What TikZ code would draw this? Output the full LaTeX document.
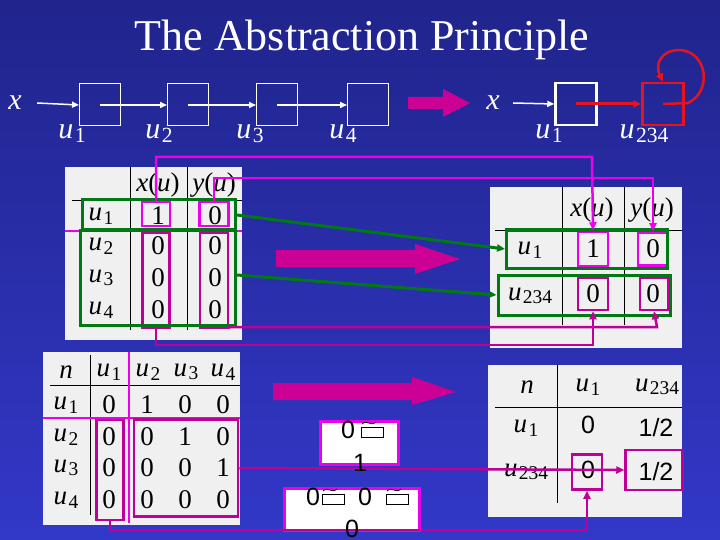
\documentclass[tikz,border=0pt]{standalone}
\usepackage{fontspec}
\setmainfont{Liberation Serif}
\newfontfamily\sansf{Liberation Sans}
\usetikzlibrary{arrows.meta,calc}
\definecolor{bgtop}{RGB}{32,36,140}
\definecolor{bgbot}{RGB}{50,56,200}
\definecolor{mag}{RGB}{235,0,235}
\definecolor{pur}{RGB}{190,0,150}
\definecolor{grn}{RGB}{0,120,20}
\definecolor{blk}{RGB}{205,0,150}
\definecolor{rd}{RGB}{230,20,30}
\definecolor{tbl}{RGB}{240,240,240}
\newcommand{\uv}[1]{\textit{u}\kern0.05em\raisebox{-0.3ex}{\scalebox{0.72}{\upshape #1}}}
\tikzset{
 x=1pt,y=-1pt,
 lst/.style={draw=white,line width=1pt,minimum width=41pt,minimum height=42pt,inner sep=0},
 lab/.style={text=white,font=\fontsize{30}{32}\selectfont},
 tx/.style={font=\fontsize{27}{29}\selectfont,inner sep=0},
 tsx/.style={font=\sansf\fontsize{25}{27}\selectfont,inner sep=0},
 warr/.style={draw=white,line width=1.5pt,-{Triangle[length=7pt,width=6pt]}},
 magl/.style={draw=mag,line width=2.5pt},
 purl/.style={draw=pur,line width=2.5pt},
 grnl/.style={draw=grn,line width=3pt},
 ah/.style={-{Triangle[length=8pt,width=7pt]}},
 wbox/.style={draw=mag,line width=3pt,fill=white},
}
\newcommand{\kb}[1]{\draw[black,fill=white,line width=0.4pt] ($(#1)+(-11,-4)$) rectangle ($(#1)+(11,6)$); \draw[black,line width=0.8pt] ($(#1)+(-10,-7)$) .. controls ($(#1)+(-5,-12)$) and ($(#1)+(-2,-4)$) .. ($(#1)+(4,-9)$);}
\begin{document}
\begin{tikzpicture}
\shade[top color=bgtop,bottom color=bgbot] (0,0) rectangle (720,540);
\useasboundingbox (0,0) rectangle (720,540);
\node[text=white,font=\fontsize{44}{48}\selectfont] (title) at (362,40) {The Abstraction Principle};
% left list
\node[lab] (xa) at (15,103) {\textit{x}};
\node[lst] (b1) at (100,105) {};
\node[lst] (b2) at (188,105) {};
\node[lst] (b3) at (277,105) {};
\node[lst] (b4) at (368,105) {};
\draw[warr] (xa.east)++(12,0) -- (b1.west);
\draw[warr] (b1.center) -- (b2.west);
\draw[warr] (b2.center) -- (b3.west);
\draw[warr] (b3.center) -- (b4.west);
\node[lab] (l1) at (72,134) {\uv{1}};
\node[lab] (l2) at (159,134) {\uv{2}};
\node[lab] (l3) at (250,134) {\uv{3}};
\node[lab] (l4) at (343,134) {\uv{4}};
\fill[blk] (408,97) -- (443,97) -- (443,89) -- (470,103) -- (443,117) -- (443,109) -- (408,109) -- cycle;
% right list
\node[lab] (xb) at (493,103) {\textit{x}};
\node[lst,line width=2.5pt] (c1) at (576,104) {};
\node[lst,draw=rd,line width=2.5pt] (c2) at (663,104) {};
\draw[warr] (513,103) -- (c1.west);
\draw[draw=rd,line width=3pt,ah] (c1.center) -- (c2.west);
\draw[draw=rd,line width=2.5pt,ah] (c2.center) -- (688,103) .. controls (712,92) and (708,52) .. (680,50) .. controls (660,50) and (655,65) .. (c2.north);
\node[lab] (m1) at (549,134) {\uv{1}};
\node[lab] (m2) at (644,134) {\uv{234}};
% table 1
\fill[tbl] (65,167) rectangle (242,340);
\draw[black,line width=0.5pt] (130,167) -- (130,330) (187,167) -- (187,330);
\draw[black,line width=0.8pt] (72,200) -- (242,200);
\node[tx] (h1) at (158,185) {\textit{x}(\textit{u})};
\node[tx] (h2) at (214,185) {\textit{y}(\textit{u})};
\foreach \r/\y/\a/\b in {1/216/1/0,2/246/0/0,3/278/0/0,4/310/0/0}{
 \node[tx] (r\r) at (101,\y) {\uv{\r}};
 \node[tx] (xa\r) at (158,\y) {\a};
 \node[tx] (ya\r) at (215,\y) {\b};}
\draw[magl] (65,231) -- (242,231);
\node[draw=mag,line width=2.5pt,minimum width=28pt,minimum height=24pt] (p1) at (156,214) {};
\node[draw=mag,line width=2.5pt,minimum width=29pt,minimum height=24pt] (p2) at (214,214) {};
\node[draw=pur,line width=2.5pt,minimum width=27pt,minimum height=95pt] (q1) at (156,280) {};
\node[draw=pur,line width=2.5pt,minimum width=28pt,minimum height=95pt] (q2) at (214,280) {};
\node[draw=grn,line width=3pt,minimum width=153pt,minimum height=30pt] (g1) at (159,215) {};
\node[draw=grn,line width=3pt,minimum width=155pt,minimum height=95pt] (g2) at (158,278) {};
% right table 1
\fill[tbl] (490,187) rectangle (682,348);
\draw[black,line width=0.5pt] (562,187) -- (562,325) (624,187) -- (624,325);
\draw[black,line width=0.8pt] (495,230) -- (682,230);
\node[tx] (k1) at (592,210) {\textit{x}(\textit{u})};
\node[tx] (k2) at (652,210) {\textit{y}(\textit{u})};
\node[tx] (s1) at (530,250) {\uv{1}};
\node[tx] (s2) at (530,296) {\uv{234}};
\node[tx] (v1) at (593,249) {1};
\node[tx] (v2) at (653,249) {0};
\node[tx] (v3) at (593,294) {0};
\node[tx] (v4) at (653,294) {0};
\node[draw=mag,line width=2.5pt,minimum width=30pt,minimum height=35pt] (pp1) at (593,249) {};
\node[draw=mag,line width=2.5pt,minimum width=30pt,minimum height=33pt] (pp2) at (653,249) {};
\node[draw=pur,line width=2.5pt,minimum width=30pt,minimum height=32pt] (qq1) at (593,294) {};
\node[draw=pur,line width=2.5pt,minimum width=28pt,minimum height=32pt] (qq2) at (654,294) {};
\node[draw=grn,line width=3pt,minimum width=161pt,minimum height=38pt] (gg1) at (587,249) {};
\node[draw=grn,line width=3pt,minimum width=172pt,minimum height=40pt] (gg2) at (584,295) {};
% connectors
\draw[magl,ah] (p1.north) |- (592,157) -- (pp1.north);
\draw[magl,ah] (p2.north) |- (653,178) -- (pp2.north);
\draw[grnl,ah] (g1.east) -- (gg1.west);
\draw[grnl,ah] (g2.east|-0,275) -- (gg2.west);
\draw[purl,ah] (q1.south) |- (593,345) -- (qq1.south);
\draw[purl,ah] (q2.south east) -- (229,327) -- (657,327) -- (qq2.south);
% block arrows middle
\fill[blk] (276,250) -- (415,250) -- (415,244) -- (460,259) -- (415,274) -- (415,267) -- (276,267) -- cycle;
\fill[blk] (273,383) -- (412,383) -- (412,377) -- (456,392) -- (412,405) -- (412,400) -- (273,400) -- cycle;
% table 2
\fill[tbl] (43,352) rectangle (240,525);
\draw[black,line width=0.5pt] (90,355) -- (90,515);
\draw[black,line width=0.8pt] (50,385) -- (240,385);
\node[tx] (n0) at (66,372) {\textit{n}};
\node[tx] (c1h) at (109,372) {\uv{1}};
\node[tx] (c2h) at (148,372) {\uv{2}};
\node[tx] (c3h) at (186,372) {\uv{3}};
\node[tx] (c4h) at (223,372) {\uv{4}};
\foreach \r/\y/\a/\b/\c/\d in {1/405/0/1/0/0,2/437/0/0/1/0,3/468/0/0/0/1,4/500/0/0/0/0}{
 \node[tx] (rr\r) at (66,\y) {\uv{\r}};
 \node[tx] at (109,\y) {\a};
 \node[tx] at (147,\y) {\b};
 \node[tx] at (185,\y) {\c};
 \node[tx] at (223,\y) {\d};}
\draw[magl] (43,418) -- (240,418);
\draw[magl] (129,352) -- (129,523);
\node[draw=pur,line width=2.5pt,minimum width=27pt,minimum height=100pt] (w1) at (110,470) {};
\node[draw=pur,line width=2.5pt,minimum width=104pt,minimum height=97pt] (w2) at (186,468) {};
% right table 2
\fill[tbl] (488,365) rectangle (682,517);
\draw[black,line width=0.5pt] (557,365) -- (557,503);
\draw[black,line width=0.8pt] (495,407) -- (682,407);
\node[tx] (t0) at (527,387) {\textit{n}};
\node[tx] (t1) at (588,387) {\uv{1}};
\node[tx] (t2) at (657,387) {\uv{234}};
\node[tx] (t3) at (526,428) {\uv{1}};
\node[tx] (t4) at (526,472) {\uv{234}};
\node[tsx] (z1) at (588,425) {0};
\node[tsx] (z2) at (656,428) {1/2};
\node[tsx] (z3) at (588,470) {0};
\node[tsx] (z4) at (656,472) {1/2};
\node[draw=pur,line width=2.5pt,minimum width=30pt,minimum height=35pt] (zb1) at (587,472) {};
\node[draw=pur,line width=2.5pt,minimum width=57pt,minimum height=40pt] (zb2) at (654,470) {};
% white boxes
\node[wbox,minimum width=78pt,minimum height=43pt] (wb1) at (359,443) {};
\node[wbox,minimum width=135pt,minimum height=42pt] (wb2) at (352,509) {};
\draw[purl,ah] (w2.east) -- (zb2.west);
\draw[purl,ah] (w1.south) |- (587,530) -- (zb1.south);
\node[tsx] (o1) at (348,430) {0};
\node[tsx] (o2) at (360,463) {1};
\node[tsx] (o3) at (313,497) {0};
\node[tsx] (o4) at (365,497) {0};
\node[tsx] (o5) at (352,529) {0};
\kb{372,431}
\kb{333,498}
\kb{397,498}
\end{tikzpicture}
\end{document}
